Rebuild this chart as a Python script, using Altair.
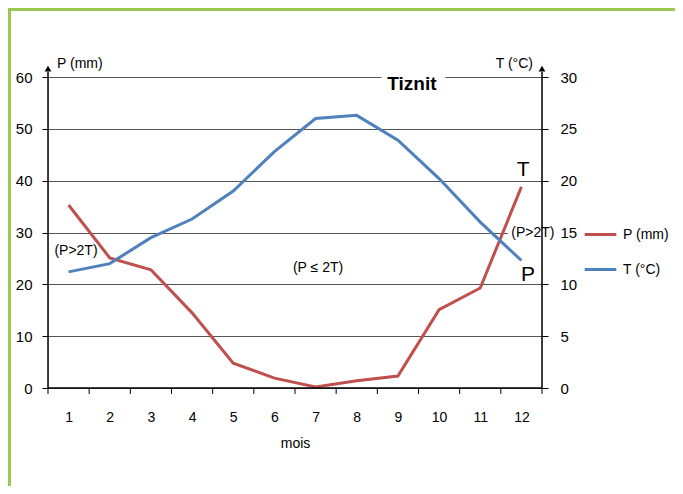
import altair as alt
import pandas as pd

# ---- data ----
months = list(range(1, 13))
precip_mm = [35.3, 25.1, 22.8, 14.5, 4.8, 1.9, 0.2, 1.4, 2.3, 15.1, 19.3, 38.8]
temp_c = [11.2, 12.0, 14.5, 16.3, 19.0, 22.8, 26.0, 26.3, 23.9, 20.2, 16.0, 12.3]

series_names = ["P (mm)", "T (°C)"]
series_colors = ["#C0504D", "#4F81BD"]

p_ticks = [0, 10, 20, 30, 40, 50, 60]
t_ticks = [0, 5, 10, 15, 20, 25, 30]

# annotations (in data coordinates: month, precipitation scale)
small_notes = ["(P>2T)", "(P ≤ 2T)", "(P>2T)"]
small_x = [1.18, 7.06, 12.28]
small_y = [26.4, 23.1, 29.9]

big_notes = ["T", "P"]
big_x = [12.04, 12.16]
big_y = [42.1, 21.8]

FONT = "Liberation Sans"

df = pd.DataFrame({"mois": months, "P": precip_mm, "T": temp_c})
one = pd.DataFrame({"a": [0]})

xscale = alt.Scale(domain=[0.5, 12.5], nice=False, zero=False)
pscale = alt.Scale(domain=[0, 60], nice=False)
tscale = alt.Scale(domain=[0, 30], nice=False)
cscale = alt.Scale(domain=series_names, range=series_colors)

x_axis = alt.Axis(values=months, ticks=False, domain=False, grid=False,
                  labelPadding=22, labelFontSize=14, title="mois",
                  titleFontSize=14, titleFontWeight="normal", titlePadding=12,
                  labelFont=FONT, titleFont=FONT, labelColor="black", titleColor="black")

def X(field="mois"):
    return alt.X(f"{field}:Q", scale=xscale, axis=x_axis)

legend = alt.Legend(orient="none", legendX=535, legendY=140, title=None,
                    symbolType="stroke", symbolSize=1000, symbolStrokeWidth=3,
                    labelFont=FONT, labelFontSize=14, labelColor="black",
                    rowPadding=10, labelOffset=5)

# ---------- left (precipitation) group ----------
frame = alt.Chart(one).mark_rect(fill="transparent", stroke="#9BC850", strokeWidth=3).encode(
    x=alt.value(-38.5), x2=alt.value(700), y=alt.value(-67.5), y2=alt.value(700))

p_line = alt.Chart(df).transform_calculate(s="'P (mm)'").mark_line(strokeWidth=3).encode(
    x=X(),
    y=alt.Y("P:Q", scale=pscale,
            axis=alt.Axis(values=p_ticks, orient="left", title=None, domain=False,
                          ticks=True, tickSize=6, tickColor="black", labelPadding=10,
                          grid=True, gridColor="#555555", gridWidth=1,
                          labelFontSize=15, labelFont=FONT, labelColor="black")),
    color=alt.Color("s:N", scale=cscale, legend=legend),
)

bg = pd.DataFrame({"x": [8.6, 11.67], "x2": [10.15, 12.89], "y": [59.4, 29.3], "y2": [60.6, 30.7]})
white = alt.Chart(bg).mark_rect(fill="white").encode(
    x=alt.X("x:Q", scale=xscale), x2="x2", y=alt.Y("y:Q", scale=pscale), y2="y2")

bounds = pd.DataFrame({"b": [m + 0.5 for m in [0] + months]})
xticks = alt.Chart(bounds).mark_rule(color="black", strokeWidth=1).encode(
    x=alt.X("b:Q", scale=xscale), y=alt.value(311), y2=alt.value(317))

axes_df = pd.DataFrame({"x": [0.5, 12.5], "y": [0, 0], "y2": [61.0, 61.0]})
vaxes = alt.Chart(axes_df).mark_rule(color="black", strokeWidth=1.5).encode(
    x=alt.X("x:Q", scale=xscale), y=alt.Y("y:Q", scale=pscale), y2="y2")
haxis = alt.Chart(one).mark_rule(color="black", strokeWidth=1.5).encode(
    x=alt.value(0), x2=alt.value(494), y=alt.value(311))

arrows_df = pd.DataFrame({"x": [0.5, 12.5], "y": [61.6, 61.6]})
arrows = alt.Chart(arrows_df).mark_point(shape="triangle-up", filled=True, size=45,
                                         color="black", opacity=1).encode(
    x=alt.X("x:Q", scale=xscale), y=alt.Y("y:Q", scale=pscale))

label_df = pd.DataFrame({"x": [0.72, 12.28], "y": [62.5, 62.5], "t": ["P (mm)", "T (°C)"]})
lab_left = alt.Chart(label_df.iloc[[0]]).mark_text(align="left", baseline="middle", font=FONT,
                                                   fontSize=14, color="black").encode(
    x=alt.X("x:Q", scale=xscale), y=alt.Y("y:Q", scale=pscale), text="t:N")
lab_right = alt.Chart(label_df.iloc[[1]]).mark_text(align="right", baseline="middle", font=FONT,
                                                    fontSize=14, color="black").encode(
    x=alt.X("x:Q", scale=xscale), y=alt.Y("y:Q", scale=pscale), text="t:N")

title_df = pd.DataFrame({"x": [9.34], "y": [58.7], "t": ["Tiznit"]})
title = alt.Chart(title_df).mark_text(font=FONT, fontSize=19, fontWeight="bold",
                                      color="black", baseline="middle").encode(
    x=alt.X("x:Q", scale=xscale), y=alt.Y("y:Q", scale=pscale), text="t:N")

small_df = pd.DataFrame({"x": small_x, "y": small_y, "t": small_notes})
small = alt.Chart(small_df).mark_text(font=FONT, fontSize=14, color="black",
                                      baseline="middle").encode(
    x=alt.X("x:Q", scale=xscale), y=alt.Y("y:Q", scale=pscale), text="t:N")

big_df = pd.DataFrame({"x": big_x, "y": big_y, "t": big_notes})
big = alt.Chart(big_df).mark_text(font=FONT, fontSize=21, color="black",
                                  baseline="middle").encode(
    x=alt.X("x:Q", scale=xscale), y=alt.Y("y:Q", scale=pscale), text="t:N")

left = alt.layer(frame, p_line, white, xticks, vaxes, haxis, arrows,
                 lab_left, lab_right, title, small, big)

# ---------- right (temperature) group ----------
t_line = alt.Chart(df).transform_calculate(s="'T (°C)'").mark_line(strokeWidth=3).encode(
    x=X(),
    y=alt.Y("T:Q", scale=tscale,
            axis=alt.Axis(values=t_ticks, orient="right", title=None, domain=False,
                          ticks=True, tickSize=6, tickColor="black", labelPadding=12,
                          grid=False, labelFontSize=15, labelFont=FONT, labelColor="black")),
    color=alt.Color("s:N", scale=cscale, legend=legend),
)

chart = alt.layer(left, t_line).resolve_scale(y="independent").properties(
    width=494, height=311,
    autosize=alt.AutoSizeParams(type="none"),
    padding={"left": 40, "top": 69, "right": 133, "bottom": 98},
).configure_view(stroke=None).configure(background="white")

chart.save("out.html", embed_options={"renderer": "svg", "actions": False})
